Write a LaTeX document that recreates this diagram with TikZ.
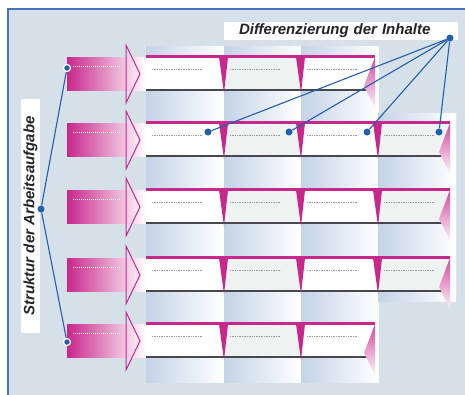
\documentclass[tikz,border=0pt]{standalone}
\usepackage{fontspec}
\setmainfont{Liberation Sans}
\definecolor{bgblue}{RGB}{214,224,233}
\definecolor{frameblue}{RGB}{70,115,185}
\definecolor{pinkline}{RGB}{200,40,140}
\definecolor{stripblue}{RGB}{196,211,231}
\definecolor{cellgray}{RGB}{238,242,241}
\definecolor{linkblue}{RGB}{35,95,175}
\definecolor{rowline}{RGB}{70,72,78}
\definecolor{labelgray}{RGB}{35,35,40}
\tikzset{
  dot/.style={circle,fill=linkblue,inner sep=0pt,minimum size=7pt},
  ringdot/.style={dot,draw=white,line width=1.2pt},
  link/.style={linkblue,line width=1.1pt},
  labelbox/.style={fill=white,inner sep=0pt,text=labelgray,
    font=\fontsize{15}{18}\selectfont\bfseries\itshape},
  celldots/.style={gray!80,line width=0.5pt,dash pattern=on 1pt off 0.7pt}
}
\begin{document}
\begin{tikzpicture}[x=1pt,y=-1pt]
  \useasboundingbox (0,0) rectangle (465,394);
  \fill[bgblue] (8,9) rectangle (466,395);
  \draw[frameblue,line width=1.5pt] (8,395) -- (8,9) -- (466,9);

  \foreach \x in {146,224,301}
    \shade[left color=stripblue,right color=white] (\x,46) rectangle (\x+77.5,382);
  \shade[left color=stripblue,right color=white] (378,113) rectangle (456,301);

  \foreach \t/\r/\n in {55/375/3,121/450/4,188/450/4,256/450/4,322/375/3} {
    \shade[left color=pinkline,right color=white] (67,\t+2) rectangle (146,\t+35);
    \draw[pinkline,line width=1pt] (126,\t-10) -- (140,\t+19) -- (126,\t+48) -- cycle;
    \draw[white,line width=0.8pt,dash pattern=on 1pt off 1pt] (73,\t+11) -- (121,\t+11);
    \fill[white] (146,\t) rectangle (\r,\t+35);
    \fill[cellgray] (224,\t) rectangle (301,\t+35);
    \ifnum\n=4 \fill[cellgray] (378,\t) rectangle (\r,\t+35); \fi
    \foreach \x in {146,224,301} \draw[celldots] (\x+6,\t+14) -- ++(51,0);
    \ifnum\n=4 \draw[celldots] (384,\t+14) -- ++(51,0); \fi
    \fill[pinkline] (146,\t) rectangle (\r,\t+3);
    \draw[rowline,line width=1.8pt] (146,\t+35) -- (\r-8,\t+35);
    \foreach \x in {224,301} \fill[pinkline] (\x-5,\t+2) -- (\x+4,\t+2) -- (\x,\t+38) -- cycle;
    \ifnum\n=4 \fill[pinkline] (373,\t+2) -- (382,\t+2) -- (378,\t+38) -- cycle; \fi
    \shade[top color=pinkline!85,bottom color=pinkline!5] (\r,\t+2) -- (\r-11,\t+31) -- (\r,\t+53) -- cycle;
  }

  \node[labelbox,minimum height=18pt,text width=234pt,align=left] (inhalte) at (341,31)
    {\hspace*{15pt}Differenzierung der Inhalte};
  \node[labelbox,rotate=90,minimum width=234pt,minimum height=19pt] (struktur) at (30.5,216)
    {Struktur der Arbeitsaufgabe};

  \node[dot] (sdot) at (41,209) {};
  \node[ringdot] (sdot1) at (67,68) {};
  \node[ringdot] (sdot5) at (67,342) {};
  \draw[link] (sdot) -- (sdot1);
  \draw[link] (sdot) -- (sdot5);

  \node[dot] (idot) at (450,38) {};
  \node[dot] (idot1) at (208,132) {};
  \node[dot] (idot2) at (289,132) {};
  \node[dot] (idot3) at (367,132) {};
  \node[dot] (idot4) at (439,132) {};
  \draw[link] (idot) -- (idot1);
  \draw[link] (idot) -- (idot2);
  \draw[link] (idot) -- (idot3);
  \draw[link] (idot) -- (idot4);
\end{tikzpicture}
\end{document}
